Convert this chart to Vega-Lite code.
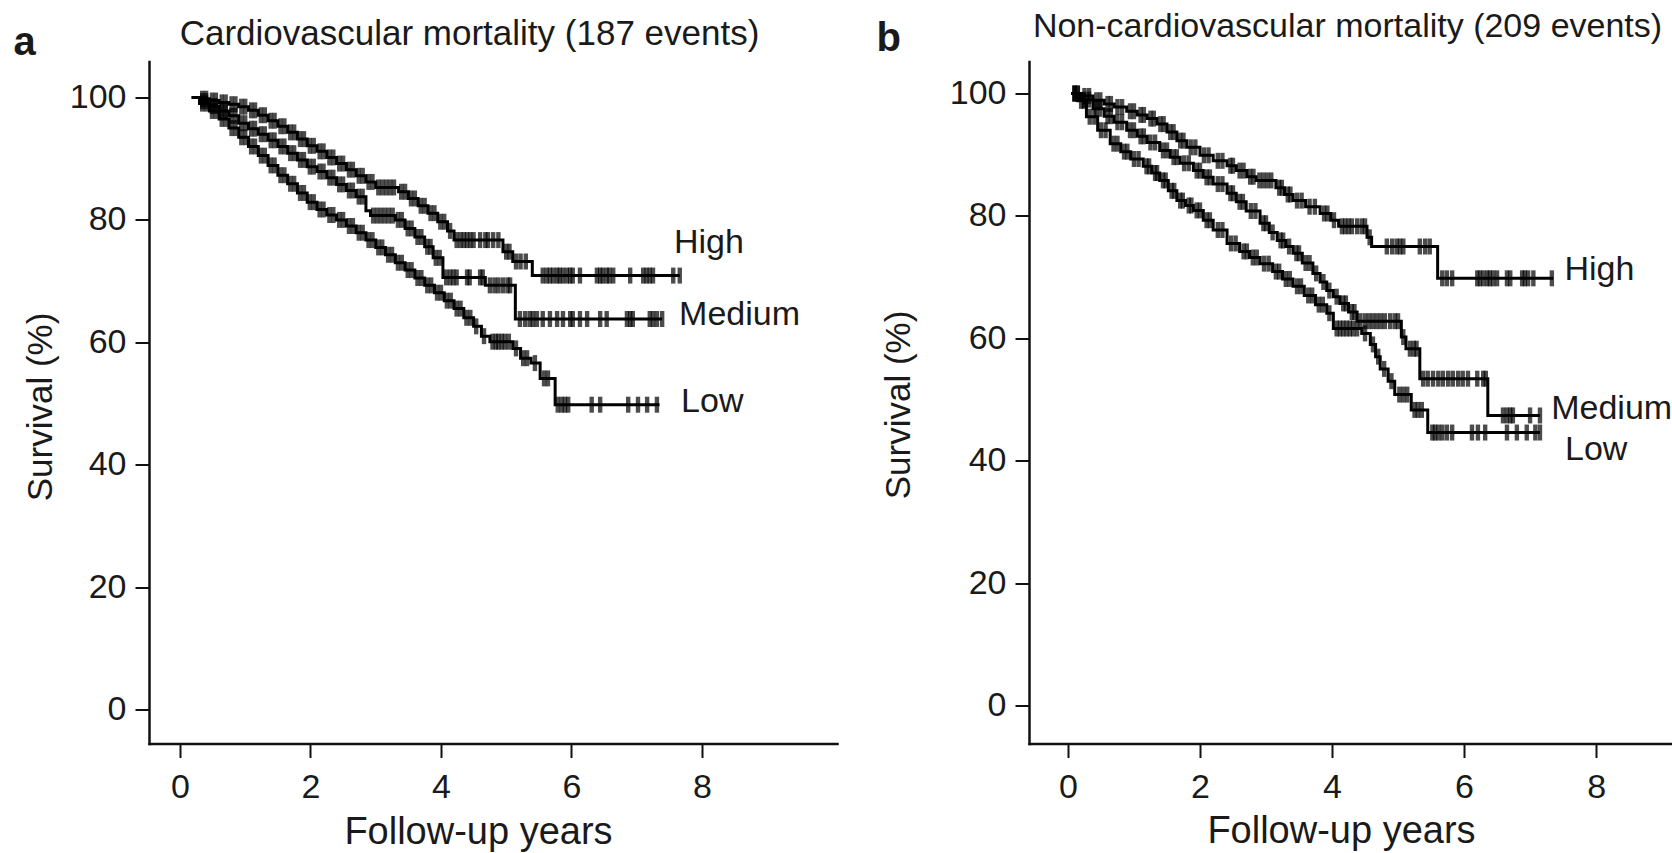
{
"$schema":"https://vega.github.io/schema/vega-lite/v6.json",
"background":"white",
"padding":{"left":13,"top":9.5,"right":0,"bottom":0},
"autosize":{"type":"pad"},
"spacing":192,
"bounds":"flush",
"datasets":{
"aSteps":[
{"curve":"High","year":0.18,"surv":100},{"curve":"High","year":0.3,"surv":99.8},{"curve":"High","year":0.45,"surv":99.5},{"curve":"High","year":0.6,"surv":99.2},{"curve":"High","year":0.75,"surv":98.9},{"curve":"High","year":0.9,"surv":98.5},{"curve":"High","year":1.05,"surv":97.9},{"curve":"High","year":1.2,"surv":97.1},{"curve":"High","year":1.35,"surv":96.2},{"curve":"High","year":1.5,"surv":95.3},{"curve":"High","year":1.65,"surv":94.3},{"curve":"High","year":1.8,"surv":93.2},{"curve":"High","year":1.95,"surv":92.1},{"curve":"High","year":2.1,"surv":91.2},{"curve":"High","year":2.25,"surv":90.2},{"curve":"High","year":2.4,"surv":89.2},{"curve":"High","year":2.55,"surv":88.2},{"curve":"High","year":2.7,"surv":87.2},{"curve":"High","year":2.85,"surv":86.2},{"curve":"High","year":3.0,"surv":85.3},{"curve":"High","year":3.35,"surv":84.6},{"curve":"High","year":3.5,"surv":83.5},{"curve":"High","year":3.65,"surv":82.3},{"curve":"High","year":3.8,"surv":81.1},{"curve":"High","year":3.95,"surv":79.7},{"curve":"High","year":4.1,"surv":78.2},{"curve":"High","year":4.2,"surv":76.7},{"curve":"High","year":4.95,"surv":74.8},{"curve":"High","year":5.1,"surv":73.2},{"curve":"High","year":5.4,"surv":70.9},{"curve":"High","year":7.66,"surv":70.9},
{"curve":"Medium","year":0.18,"surv":100},{"curve":"Medium","year":0.3,"surv":99.4},{"curve":"Medium","year":0.45,"surv":98.6},{"curve":"Medium","year":0.6,"surv":97.8},{"curve":"Medium","year":0.75,"surv":97.0},{"curve":"Medium","year":0.9,"surv":95.8},{"curve":"Medium","year":1.05,"surv":94.9},{"curve":"Medium","year":1.2,"surv":94.0},{"curve":"Medium","year":1.35,"surv":93.0},{"curve":"Medium","year":1.5,"surv":92.0},{"curve":"Medium","year":1.65,"surv":90.9},{"curve":"Medium","year":1.8,"surv":89.8},{"curve":"Medium","year":1.95,"surv":88.7},{"curve":"Medium","year":2.1,"surv":87.9},{"curve":"Medium","year":2.25,"surv":86.9},{"curve":"Medium","year":2.4,"surv":85.8},{"curve":"Medium","year":2.55,"surv":84.8},{"curve":"Medium","year":2.7,"surv":83.8},{"curve":"Medium","year":2.85,"surv":81.5},{"curve":"Medium","year":2.92,"surv":80.7},{"curve":"Medium","year":3.3,"surv":80.0},{"curve":"Medium","year":3.45,"surv":78.6},{"curve":"Medium","year":3.6,"surv":77.2},{"curve":"Medium","year":3.75,"surv":75.6},{"curve":"Medium","year":3.88,"surv":73.8},{"curve":"Medium","year":4.03,"surv":70.6},{"curve":"Medium","year":4.68,"surv":69.3},{"curve":"Medium","year":5.14,"surv":63.8},{"curve":"Medium","year":7.39,"surv":63.8},
{"curve":"Low","year":0.18,"surv":100},{"curve":"Low","year":0.3,"surv":99.0},{"curve":"Low","year":0.45,"surv":97.8},{"curve":"Low","year":0.6,"surv":96.5},{"curve":"Low","year":0.75,"surv":95.0},{"curve":"Low","year":0.9,"surv":93.5},{"curve":"Low","year":1.05,"surv":92.0},{"curve":"Low","year":1.2,"surv":90.5},{"curve":"Low","year":1.35,"surv":88.9},{"curve":"Low","year":1.5,"surv":87.3},{"curve":"Low","year":1.65,"surv":85.9},{"curve":"Low","year":1.8,"surv":84.4},{"curve":"Low","year":1.95,"surv":82.9},{"curve":"Low","year":2.1,"surv":81.7},{"curve":"Low","year":2.25,"surv":80.8},{"curve":"Low","year":2.4,"surv":80.0},{"curve":"Low","year":2.55,"surv":79.0},{"curve":"Low","year":2.7,"surv":77.9},{"curve":"Low","year":2.85,"surv":76.7},{"curve":"Low","year":3.0,"surv":75.5},{"curve":"Low","year":3.15,"surv":74.3},{"curve":"Low","year":3.3,"surv":73.0},{"curve":"Low","year":3.45,"surv":71.8},{"curve":"Low","year":3.6,"surv":70.5},{"curve":"Low","year":3.75,"surv":69.3},{"curve":"Low","year":3.9,"surv":68.1},{"curve":"Low","year":4.05,"surv":66.8},{"curve":"Low","year":4.2,"surv":65.5},{"curve":"Low","year":4.35,"surv":64.0},{"curve":"Low","year":4.5,"surv":62.6},{"curve":"Low","year":4.62,"surv":61.0},{"curve":"Low","year":4.75,"surv":60.1},{"curve":"Low","year":5.1,"surv":59.0},{"curve":"Low","year":5.22,"surv":57.4},{"curve":"Low","year":5.38,"surv":56.6},{"curve":"Low","year":5.52,"surv":54.1},{"curve":"Low","year":5.75,"surv":49.8},{"curve":"Low","year":7.35,"surv":49.8}
],
"aCens":[
{"curve":"High","year":0.34,"surv":99.8},{"curve":"High","year":0.4,"surv":99.8},{"curve":"High","year":0.49,"surv":99.5},{"curve":"High","year":0.55,"surv":99.5},{"curve":"High","year":0.64,"surv":99.2},{"curve":"High","year":0.7,"surv":99.2},{"curve":"High","year":0.79,"surv":98.9},{"curve":"High","year":0.85,"surv":98.9},{"curve":"High","year":0.94,"surv":98.5},{"curve":"High","year":1.0,"surv":98.5},{"curve":"High","year":1.09,"surv":97.9},{"curve":"High","year":1.15,"surv":97.9},{"curve":"High","year":1.24,"surv":97.1},{"curve":"High","year":1.3,"surv":97.1},{"curve":"High","year":1.39,"surv":96.2},{"curve":"High","year":1.45,"surv":96.2},{"curve":"High","year":1.54,"surv":95.3},{"curve":"High","year":1.6,"surv":95.3},{"curve":"High","year":1.69,"surv":94.3},{"curve":"High","year":1.75,"surv":94.3},{"curve":"High","year":1.84,"surv":93.2},{"curve":"High","year":1.9,"surv":93.2},{"curve":"High","year":1.99,"surv":92.1},{"curve":"High","year":2.05,"surv":92.1},{"curve":"High","year":2.14,"surv":91.2},{"curve":"High","year":2.2,"surv":91.2},{"curve":"High","year":2.29,"surv":90.2},{"curve":"High","year":2.35,"surv":90.2},{"curve":"High","year":2.44,"surv":89.2},{"curve":"High","year":2.5,"surv":89.2},{"curve":"High","year":2.59,"surv":88.2},{"curve":"High","year":2.65,"surv":88.2},{"curve":"High","year":2.74,"surv":87.2},{"curve":"High","year":2.8,"surv":87.2},{"curve":"High","year":2.89,"surv":86.2},{"curve":"High","year":2.95,"surv":86.2},{"curve":"High","year":3.04,"surv":85.3},{"curve":"High","year":3.1,"surv":85.3},{"curve":"High","year":3.16,"surv":85.3},{"curve":"High","year":3.22,"surv":85.3},{"curve":"High","year":3.28,"surv":85.3},{"curve":"High","year":3.39,"surv":84.6},{"curve":"High","year":3.45,"surv":84.6},{"curve":"High","year":3.54,"surv":83.5},{"curve":"High","year":3.6,"surv":83.5},{"curve":"High","year":3.69,"surv":82.3},{"curve":"High","year":3.75,"surv":82.3},{"curve":"High","year":3.84,"surv":81.1},{"curve":"High","year":3.9,"surv":81.1},{"curve":"High","year":3.99,"surv":79.7},{"curve":"High","year":4.05,"surv":79.7},{"curve":"High","year":4.14,"surv":78.2},{"curve":"High","year":4.24,"surv":76.7},{"curve":"High","year":4.3,"surv":76.7},{"curve":"High","year":4.35,"surv":76.7},{"curve":"High","year":4.4,"surv":76.7},{"curve":"High","year":4.45,"surv":76.7},{"curve":"High","year":4.5,"surv":76.7},{"curve":"High","year":4.6,"surv":76.7},{"curve":"High","year":4.68,"surv":76.7},{"curve":"High","year":4.72,"surv":76.7},{"curve":"High","year":4.8,"surv":76.7},{"curve":"High","year":4.88,"surv":76.7},{"curve":"High","year":5.0,"surv":74.8},{"curve":"High","year":5.05,"surv":74.8},{"curve":"High","year":5.15,"surv":73.2},{"curve":"High","year":5.22,"surv":73.2},{"curve":"High","year":5.3,"surv":73.2},{"curve":"High","year":5.56,"surv":70.9},{"curve":"High","year":5.62,"surv":70.9},{"curve":"High","year":5.67,"surv":70.9},{"curve":"High","year":5.72,"surv":70.9},{"curve":"High","year":5.78,"surv":70.9},{"curve":"High","year":5.82,"surv":70.9},{"curve":"High","year":5.87,"surv":70.9},{"curve":"High","year":5.93,"surv":70.9},{"curve":"High","year":5.98,"surv":70.9},{"curve":"High","year":6.02,"surv":70.9},{"curve":"High","year":6.13,"surv":70.9},{"curve":"High","year":6.39,"surv":70.9},{"curve":"High","year":6.44,"surv":70.9},{"curve":"High","year":6.48,"surv":70.9},{"curve":"High","year":6.54,"surv":70.9},{"curve":"High","year":6.58,"surv":70.9},{"curve":"High","year":6.64,"surv":70.9},{"curve":"High","year":6.9,"surv":70.9},{"curve":"High","year":7.1,"surv":70.9},{"curve":"High","year":7.15,"surv":70.9},{"curve":"High","year":7.2,"surv":70.9},{"curve":"High","year":7.25,"surv":70.9},{"curve":"High","year":7.56,"surv":70.9},{"curve":"High","year":7.66,"surv":70.9},
{"curve":"Medium","year":0.34,"surv":99.4},{"curve":"Medium","year":0.4,"surv":99.4},{"curve":"Medium","year":0.49,"surv":98.6},{"curve":"Medium","year":0.55,"surv":98.6},{"curve":"Medium","year":0.64,"surv":97.8},{"curve":"Medium","year":0.7,"surv":97.8},{"curve":"Medium","year":0.79,"surv":97.0},{"curve":"Medium","year":0.85,"surv":97.0},{"curve":"Medium","year":0.94,"surv":95.8},{"curve":"Medium","year":1.0,"surv":95.8},{"curve":"Medium","year":1.09,"surv":94.9},{"curve":"Medium","year":1.15,"surv":94.9},{"curve":"Medium","year":1.24,"surv":94.0},{"curve":"Medium","year":1.3,"surv":94.0},{"curve":"Medium","year":1.39,"surv":93.0},{"curve":"Medium","year":1.45,"surv":93.0},{"curve":"Medium","year":1.54,"surv":92.0},{"curve":"Medium","year":1.6,"surv":92.0},{"curve":"Medium","year":1.69,"surv":90.9},{"curve":"Medium","year":1.75,"surv":90.9},{"curve":"Medium","year":1.84,"surv":89.8},{"curve":"Medium","year":1.9,"surv":89.8},{"curve":"Medium","year":1.99,"surv":88.7},{"curve":"Medium","year":2.05,"surv":88.7},{"curve":"Medium","year":2.14,"surv":87.9},{"curve":"Medium","year":2.2,"surv":87.9},{"curve":"Medium","year":2.29,"surv":86.9},{"curve":"Medium","year":2.35,"surv":86.9},{"curve":"Medium","year":2.44,"surv":85.8},{"curve":"Medium","year":2.5,"surv":85.8},{"curve":"Medium","year":2.59,"surv":84.8},{"curve":"Medium","year":2.65,"surv":84.8},{"curve":"Medium","year":2.74,"surv":83.8},{"curve":"Medium","year":2.8,"surv":83.8},{"curve":"Medium","year":2.96,"surv":80.7},{"curve":"Medium","year":3.02,"surv":80.7},{"curve":"Medium","year":3.08,"surv":80.7},{"curve":"Medium","year":3.14,"surv":80.7},{"curve":"Medium","year":3.2,"surv":80.7},{"curve":"Medium","year":3.26,"surv":80.7},{"curve":"Medium","year":3.34,"surv":80.0},{"curve":"Medium","year":3.4,"surv":80.0},{"curve":"Medium","year":3.49,"surv":78.6},{"curve":"Medium","year":3.55,"surv":78.6},{"curve":"Medium","year":3.64,"surv":77.2},{"curve":"Medium","year":3.7,"surv":77.2},{"curve":"Medium","year":3.79,"surv":75.6},{"curve":"Medium","year":3.84,"surv":75.6},{"curve":"Medium","year":3.92,"surv":73.8},{"curve":"Medium","year":3.98,"surv":73.8},{"curve":"Medium","year":4.08,"surv":70.6},{"curve":"Medium","year":4.14,"surv":70.6},{"curve":"Medium","year":4.19,"surv":70.6},{"curve":"Medium","year":4.24,"surv":70.6},{"curve":"Medium","year":4.4,"surv":70.6},{"curve":"Medium","year":4.44,"surv":70.6},{"curve":"Medium","year":4.6,"surv":70.6},{"curve":"Medium","year":4.64,"surv":70.6},{"curve":"Medium","year":4.75,"surv":69.3},{"curve":"Medium","year":4.82,"surv":69.3},{"curve":"Medium","year":4.88,"surv":69.3},{"curve":"Medium","year":4.95,"surv":69.3},{"curve":"Medium","year":5.02,"surv":69.3},{"curve":"Medium","year":5.06,"surv":69.3},{"curve":"Medium","year":5.21,"surv":63.8},{"curve":"Medium","year":5.29,"surv":63.8},{"curve":"Medium","year":5.36,"surv":63.8},{"curve":"Medium","year":5.41,"surv":63.8},{"curve":"Medium","year":5.47,"surv":63.8},{"curve":"Medium","year":5.56,"surv":63.8},{"curve":"Medium","year":5.67,"surv":63.8},{"curve":"Medium","year":5.78,"surv":63.8},{"curve":"Medium","year":5.87,"surv":63.8},{"curve":"Medium","year":5.98,"surv":63.8},{"curve":"Medium","year":6.02,"surv":63.8},{"curve":"Medium","year":6.13,"surv":63.8},{"curve":"Medium","year":6.24,"surv":63.8},{"curve":"Medium","year":6.44,"surv":63.8},{"curve":"Medium","year":6.54,"surv":63.8},{"curve":"Medium","year":6.85,"surv":63.8},{"curve":"Medium","year":6.9,"surv":63.8},{"curve":"Medium","year":6.94,"surv":63.8},{"curve":"Medium","year":7.2,"surv":63.8},{"curve":"Medium","year":7.25,"surv":63.8},{"curve":"Medium","year":7.31,"surv":63.8},{"curve":"Medium","year":7.39,"surv":63.8},
{"curve":"Low","year":0.34,"surv":99.0},{"curve":"Low","year":0.4,"surv":99.0},{"curve":"Low","year":0.49,"surv":97.8},{"curve":"Low","year":0.55,"surv":97.8},{"curve":"Low","year":0.64,"surv":96.5},{"curve":"Low","year":0.7,"surv":96.5},{"curve":"Low","year":0.79,"surv":95.0},{"curve":"Low","year":0.85,"surv":95.0},{"curve":"Low","year":0.94,"surv":93.5},{"curve":"Low","year":1.0,"surv":93.5},{"curve":"Low","year":1.09,"surv":92.0},{"curve":"Low","year":1.15,"surv":92.0},{"curve":"Low","year":1.24,"surv":90.5},{"curve":"Low","year":1.3,"surv":90.5},{"curve":"Low","year":1.39,"surv":88.9},{"curve":"Low","year":1.45,"surv":88.9},{"curve":"Low","year":1.54,"surv":87.3},{"curve":"Low","year":1.6,"surv":87.3},{"curve":"Low","year":1.69,"surv":85.9},{"curve":"Low","year":1.75,"surv":85.9},{"curve":"Low","year":1.84,"surv":84.4},{"curve":"Low","year":1.9,"surv":84.4},{"curve":"Low","year":1.99,"surv":82.9},{"curve":"Low","year":2.05,"surv":82.9},{"curve":"Low","year":2.14,"surv":81.7},{"curve":"Low","year":2.2,"surv":81.7},{"curve":"Low","year":2.29,"surv":80.8},{"curve":"Low","year":2.35,"surv":80.8},{"curve":"Low","year":2.44,"surv":80.0},{"curve":"Low","year":2.5,"surv":80.0},{"curve":"Low","year":2.59,"surv":79.0},{"curve":"Low","year":2.65,"surv":79.0},{"curve":"Low","year":2.74,"surv":77.9},{"curve":"Low","year":2.8,"surv":77.9},{"curve":"Low","year":2.89,"surv":76.7},{"curve":"Low","year":2.95,"surv":76.7},{"curve":"Low","year":3.04,"surv":75.5},{"curve":"Low","year":3.1,"surv":75.5},{"curve":"Low","year":3.19,"surv":74.3},{"curve":"Low","year":3.25,"surv":74.3},{"curve":"Low","year":3.34,"surv":73.0},{"curve":"Low","year":3.4,"surv":73.0},{"curve":"Low","year":3.49,"surv":71.8},{"curve":"Low","year":3.55,"surv":71.8},{"curve":"Low","year":3.64,"surv":70.5},{"curve":"Low","year":3.7,"surv":70.5},{"curve":"Low","year":3.79,"surv":69.3},{"curve":"Low","year":3.85,"surv":69.3},{"curve":"Low","year":3.94,"surv":68.1},{"curve":"Low","year":4.0,"surv":68.1},{"curve":"Low","year":4.09,"surv":66.8},{"curve":"Low","year":4.15,"surv":66.8},{"curve":"Low","year":4.24,"surv":65.5},{"curve":"Low","year":4.3,"surv":65.5},{"curve":"Low","year":4.39,"surv":64.0},{"curve":"Low","year":4.45,"surv":64.0},{"curve":"Low","year":4.54,"surv":62.6},{"curve":"Low","year":4.66,"surv":61.0},{"curve":"Low","year":4.79,"surv":60.1},{"curve":"Low","year":4.84,"surv":60.1},{"curve":"Low","year":4.88,"surv":60.1},{"curve":"Low","year":4.93,"surv":60.1},{"curve":"Low","year":4.98,"surv":60.1},{"curve":"Low","year":5.04,"surv":60.1},{"curve":"Low","year":5.15,"surv":59.0},{"curve":"Low","year":5.26,"surv":57.4},{"curve":"Low","year":5.32,"surv":57.4},{"curve":"Low","year":5.44,"surv":56.6},{"curve":"Low","year":5.58,"surv":54.1},{"curve":"Low","year":5.64,"surv":54.1},{"curve":"Low","year":5.79,"surv":49.8},{"curve":"Low","year":5.85,"surv":49.8},{"curve":"Low","year":5.9,"surv":49.8},{"curve":"Low","year":5.95,"surv":49.8},{"curve":"Low","year":6.31,"surv":49.8},{"curve":"Low","year":6.44,"surv":49.8},{"curve":"Low","year":6.87,"surv":49.8},{"curve":"Low","year":7.02,"surv":49.8},{"curve":"Low","year":7.16,"surv":49.8},{"curve":"Low","year":7.31,"surv":49.8}
],
"aLab":[{"curve":"High","year":7.57,"surv":76.3},{"curve":"Medium","year":7.65,"surv":64.5},{"curve":"Low","year":7.68,"surv":50.3}],
"bSteps":[
{"curve":"High","year":0.05,"surv":100},{"curve":"High","year":0.2,"surv":99.6},{"curve":"High","year":0.38,"surv":98.9},{"curve":"High","year":0.55,"surv":98.3},{"curve":"High","year":0.7,"surv":97.8},{"curve":"High","year":0.89,"surv":97.1},{"curve":"High","year":1.05,"surv":96.5},{"curve":"High","year":1.2,"surv":95.9},{"curve":"High","year":1.35,"surv":95.0},{"curve":"High","year":1.5,"surv":93.7},{"curve":"High","year":1.65,"surv":92.3},{"curve":"High","year":1.8,"surv":91.2},{"curve":"High","year":2.0,"surv":89.9},{"curve":"High","year":2.2,"surv":89.0},{"curve":"High","year":2.41,"surv":88.2},{"curve":"High","year":2.55,"surv":87.4},{"curve":"High","year":2.71,"surv":86.4},{"curve":"High","year":2.85,"surv":85.8},{"curve":"High","year":3.15,"surv":84.6},{"curve":"High","year":3.28,"surv":83.5},{"curve":"High","year":3.41,"surv":82.5},{"curve":"High","year":3.6,"surv":81.5},{"curve":"High","year":3.82,"surv":80.4},{"curve":"High","year":3.98,"surv":79.3},{"curve":"High","year":4.1,"surv":78.3},{"curve":"High","year":4.53,"surv":76.5},{"curve":"High","year":4.6,"surv":75.0},{"curve":"High","year":5.6,"surv":69.8},{"curve":"High","year":7.35,"surv":69.8},
{"curve":"Medium","year":0.05,"surv":100},{"curve":"Medium","year":0.2,"surv":99.0},{"curve":"Medium","year":0.38,"surv":97.5},{"curve":"Medium","year":0.55,"surv":96.3},{"curve":"Medium","year":0.7,"surv":95.3},{"curve":"Medium","year":0.89,"surv":94.0},{"curve":"Medium","year":1.05,"surv":93.0},{"curve":"Medium","year":1.2,"surv":92.0},{"curve":"Medium","year":1.39,"surv":90.7},{"curve":"Medium","year":1.55,"surv":89.6},{"curve":"Medium","year":1.7,"surv":88.6},{"curve":"Medium","year":1.9,"surv":87.4},{"curve":"Medium","year":2.05,"surv":86.3},{"curve":"Medium","year":2.2,"surv":85.2},{"curve":"Medium","year":2.41,"surv":83.7},{"curve":"Medium","year":2.55,"surv":82.3},{"curve":"Medium","year":2.7,"surv":80.8},{"curve":"Medium","year":2.91,"surv":78.8},{"curve":"Medium","year":3.05,"surv":77.3},{"curve":"Medium","year":3.17,"surv":76.0},{"curve":"Medium","year":3.3,"surv":75.0},{"curve":"Medium","year":3.41,"surv":73.9},{"curve":"Medium","year":3.55,"surv":72.3},{"curve":"Medium","year":3.71,"surv":70.6},{"curve":"Medium","year":3.82,"surv":69.2},{"curve":"Medium","year":3.92,"surv":67.8},{"curve":"Medium","year":4.02,"surv":66.8},{"curve":"Medium","year":4.12,"surv":65.7},{"curve":"Medium","year":4.25,"surv":64.3},{"curve":"Medium","year":4.38,"surv":62.8},{"curve":"Medium","year":5.05,"surv":60.2},{"curve":"Medium","year":5.12,"surv":58.3},{"curve":"Medium","year":5.33,"surv":53.4},{"curve":"Medium","year":6.36,"surv":47.4},{"curve":"Medium","year":7.15,"surv":47.4},
{"curve":"Low","year":0.05,"surv":100},{"curve":"Low","year":0.15,"surv":98.8},{"curve":"Low","year":0.28,"surv":96.2},{"curve":"Low","year":0.45,"surv":94.0},{"curve":"Low","year":0.64,"surv":91.8},{"curve":"Low","year":0.8,"surv":90.5},{"curve":"Low","year":0.95,"surv":89.3},{"curve":"Low","year":1.14,"surv":88.1},{"curve":"Low","year":1.27,"surv":87.0},{"curve":"Low","year":1.39,"surv":85.8},{"curve":"Low","year":1.52,"surv":84.1},{"curve":"Low","year":1.65,"surv":82.5},{"curve":"Low","year":1.78,"surv":81.7},{"curve":"Low","year":1.9,"surv":80.9},{"curve":"Low","year":2.05,"surv":79.3},{"curve":"Low","year":2.2,"surv":77.7},{"curve":"Low","year":2.41,"surv":75.5},{"curve":"Low","year":2.6,"surv":74.2},{"curve":"Low","year":2.75,"surv":73.2},{"curve":"Low","year":2.91,"surv":72.2},{"curve":"Low","year":3.1,"surv":70.9},{"curve":"Low","year":3.25,"surv":69.7},{"curve":"Low","year":3.41,"surv":68.5},{"curve":"Low","year":3.58,"surv":67.0},{"curve":"Low","year":3.75,"surv":65.5},{"curve":"Low","year":3.92,"surv":64.1},{"curve":"Low","year":4.02,"surv":61.6},{"curve":"Low","year":4.45,"surv":60.8},{"curve":"Low","year":4.58,"surv":59.0},{"curve":"Low","year":4.66,"surv":57.0},{"curve":"Low","year":4.73,"surv":55.0},{"curve":"Low","year":4.85,"surv":53.0},{"curve":"Low","year":4.95,"surv":50.8},{"curve":"Low","year":5.2,"surv":48.3},{"curve":"Low","year":5.45,"surv":44.6},{"curve":"Low","year":7.15,"surv":44.6}
],
"bCens":[
{"curve":"High","year":0.1,"surv":100},{"curve":"High","year":0.15,"surv":100},{"curve":"High","year":0.25,"surv":99.6},{"curve":"High","year":0.32,"surv":99.6},{"curve":"High","year":0.43,"surv":98.9},{"curve":"High","year":0.49,"surv":98.9},{"curve":"High","year":0.6,"surv":98.3},{"curve":"High","year":0.65,"surv":98.3},{"curve":"High","year":0.75,"surv":97.8},{"curve":"High","year":0.82,"surv":97.8},{"curve":"High","year":0.94,"surv":97.1},{"curve":"High","year":1.0,"surv":97.1},{"curve":"High","year":1.1,"surv":96.5},{"curve":"High","year":1.15,"surv":96.5},{"curve":"High","year":1.25,"surv":95.9},{"curve":"High","year":1.3,"surv":95.9},{"curve":"High","year":1.4,"surv":95.0},{"curve":"High","year":1.45,"surv":95.0},{"curve":"High","year":1.55,"surv":93.7},{"curve":"High","year":1.6,"surv":93.7},{"curve":"High","year":1.7,"surv":92.3},{"curve":"High","year":1.75,"surv":92.3},{"curve":"High","year":1.86,"surv":91.2},{"curve":"High","year":1.93,"surv":91.2},{"curve":"High","year":2.06,"surv":89.9},{"curve":"High","year":2.13,"surv":89.9},{"curve":"High","year":2.27,"surv":89.0},{"curve":"High","year":2.34,"surv":89.0},{"curve":"High","year":2.46,"surv":88.2},{"curve":"High","year":2.5,"surv":88.2},{"curve":"High","year":2.6,"surv":87.4},{"curve":"High","year":2.66,"surv":87.4},{"curve":"High","year":2.76,"surv":86.4},{"curve":"High","year":2.81,"surv":86.4},{"curve":"High","year":2.9,"surv":85.8},{"curve":"High","year":2.96,"surv":85.8},{"curve":"High","year":3.02,"surv":85.8},{"curve":"High","year":3.08,"surv":85.8},{"curve":"High","year":3.2,"surv":84.6},{"curve":"High","year":3.24,"surv":84.6},{"curve":"High","year":3.33,"surv":83.5},{"curve":"High","year":3.37,"surv":83.5},{"curve":"High","year":3.47,"surv":82.5},{"curve":"High","year":3.54,"surv":82.5},{"curve":"High","year":3.66,"surv":81.5},{"curve":"High","year":3.74,"surv":81.5},{"curve":"High","year":3.88,"surv":80.4},{"curve":"High","year":3.93,"surv":80.4},{"curve":"High","year":4.03,"surv":79.3},{"curve":"High","year":4.15,"surv":78.3},{"curve":"High","year":4.2,"surv":78.3},{"curve":"High","year":4.25,"surv":78.3},{"curve":"High","year":4.3,"surv":78.3},{"curve":"High","year":4.38,"surv":78.3},{"curve":"High","year":4.45,"surv":78.3},{"curve":"High","year":4.5,"surv":78.3},{"curve":"High","year":4.57,"surv":76.5},{"curve":"High","year":4.83,"surv":75.0},{"curve":"High","year":4.91,"surv":75.0},{"curve":"High","year":4.98,"surv":75.0},{"curve":"High","year":5.03,"surv":75.0},{"curve":"High","year":5.08,"surv":75.0},{"curve":"High","year":5.33,"surv":75.0},{"curve":"High","year":5.41,"surv":75.0},{"curve":"High","year":5.48,"surv":75.0},{"curve":"High","year":5.67,"surv":69.8},{"curve":"High","year":5.74,"surv":69.8},{"curve":"High","year":5.82,"surv":69.8},{"curve":"High","year":6.2,"surv":69.8},{"curve":"High","year":6.24,"surv":69.8},{"curve":"High","year":6.29,"surv":69.8},{"curve":"High","year":6.35,"surv":69.8},{"curve":"High","year":6.39,"surv":69.8},{"curve":"High","year":6.44,"surv":69.8},{"curve":"High","year":6.5,"surv":69.8},{"curve":"High","year":6.65,"surv":69.8},{"curve":"High","year":6.7,"surv":69.8},{"curve":"High","year":6.88,"surv":69.8},{"curve":"High","year":6.92,"surv":69.8},{"curve":"High","year":6.97,"surv":69.8},{"curve":"High","year":7.05,"surv":69.8},{"curve":"High","year":7.33,"surv":69.8},
{"curve":"Medium","year":0.1,"surv":100},{"curve":"Medium","year":0.15,"surv":100},{"curve":"Medium","year":0.25,"surv":99.0},{"curve":"Medium","year":0.32,"surv":99.0},{"curve":"Medium","year":0.43,"surv":97.5},{"curve":"Medium","year":0.49,"surv":97.5},{"curve":"Medium","year":0.6,"surv":96.3},{"curve":"Medium","year":0.65,"surv":96.3},{"curve":"Medium","year":0.75,"surv":95.3},{"curve":"Medium","year":0.82,"surv":95.3},{"curve":"Medium","year":0.94,"surv":94.0},{"curve":"Medium","year":1.0,"surv":94.0},{"curve":"Medium","year":1.1,"surv":93.0},{"curve":"Medium","year":1.15,"surv":93.0},{"curve":"Medium","year":1.25,"surv":92.0},{"curve":"Medium","year":1.32,"surv":92.0},{"curve":"Medium","year":1.44,"surv":90.7},{"curve":"Medium","year":1.5,"surv":90.7},{"curve":"Medium","year":1.6,"surv":89.6},{"curve":"Medium","year":1.65,"surv":89.6},{"curve":"Medium","year":1.76,"surv":88.6},{"curve":"Medium","year":1.83,"surv":88.6},{"curve":"Medium","year":1.95,"surv":87.4},{"curve":"Medium","year":2.0,"surv":87.4},{"curve":"Medium","year":2.1,"surv":86.3},{"curve":"Medium","year":2.15,"surv":86.3},{"curve":"Medium","year":2.27,"surv":85.2},{"curve":"Medium","year":2.34,"surv":85.2},{"curve":"Medium","year":2.46,"surv":83.7},{"curve":"Medium","year":2.5,"surv":83.7},{"curve":"Medium","year":2.6,"surv":82.3},{"curve":"Medium","year":2.65,"surv":82.3},{"curve":"Medium","year":2.77,"surv":80.8},{"curve":"Medium","year":2.84,"surv":80.8},{"curve":"Medium","year":2.96,"surv":78.8},{"curve":"Medium","year":3.0,"surv":78.8},{"curve":"Medium","year":3.1,"surv":77.3},{"curve":"Medium","year":3.22,"surv":76.0},{"curve":"Medium","year":3.26,"surv":76.0},{"curve":"Medium","year":3.35,"surv":75.0},{"curve":"Medium","year":3.46,"surv":73.9},{"curve":"Medium","year":3.5,"surv":73.9},{"curve":"Medium","year":3.6,"surv":72.3},{"curve":"Medium","year":3.66,"surv":72.3},{"curve":"Medium","year":3.76,"surv":70.6},{"curve":"Medium","year":3.87,"surv":69.2},{"curve":"Medium","year":3.96,"surv":67.8},{"curve":"Medium","year":4.07,"surv":66.8},{"curve":"Medium","year":4.17,"surv":65.7},{"curve":"Medium","year":4.21,"surv":65.7},{"curve":"Medium","year":4.3,"surv":64.3},{"curve":"Medium","year":4.34,"surv":64.3},{"curve":"Medium","year":4.43,"surv":62.8},{"curve":"Medium","year":4.5,"surv":62.8},{"curve":"Medium","year":4.56,"surv":62.8},{"curve":"Medium","year":4.62,"surv":62.8},{"curve":"Medium","year":4.68,"surv":62.8},{"curve":"Medium","year":4.74,"surv":62.8},{"curve":"Medium","year":4.8,"surv":62.8},{"curve":"Medium","year":4.88,"surv":62.8},{"curve":"Medium","year":4.95,"surv":62.8},{"curve":"Medium","year":5.0,"surv":62.8},{"curve":"Medium","year":5.08,"surv":60.2},{"curve":"Medium","year":5.18,"surv":58.3},{"curve":"Medium","year":5.24,"surv":58.3},{"curve":"Medium","year":5.28,"surv":58.3},{"curve":"Medium","year":5.38,"surv":53.4},{"curve":"Medium","year":5.45,"surv":53.4},{"curve":"Medium","year":5.53,"surv":53.4},{"curve":"Medium","year":5.61,"surv":53.4},{"curve":"Medium","year":5.68,"surv":53.4},{"curve":"Medium","year":5.76,"surv":53.4},{"curve":"Medium","year":5.83,"surv":53.4},{"curve":"Medium","year":5.91,"surv":53.4},{"curve":"Medium","year":5.98,"surv":53.4},{"curve":"Medium","year":6.06,"surv":53.4},{"curve":"Medium","year":6.2,"surv":53.4},{"curve":"Medium","year":6.29,"surv":53.4},{"curve":"Medium","year":6.33,"surv":53.4},{"curve":"Medium","year":6.59,"surv":47.4},{"curve":"Medium","year":6.65,"surv":47.4},{"curve":"Medium","year":6.7,"surv":47.4},{"curve":"Medium","year":6.74,"surv":47.4},{"curve":"Medium","year":7.0,"surv":47.4},{"curve":"Medium","year":7.15,"surv":47.4},
{"curve":"Low","year":0.1,"surv":100},{"curve":"Low","year":0.2,"surv":98.8},{"curve":"Low","year":0.24,"surv":98.8},{"curve":"Low","year":0.33,"surv":96.2},{"curve":"Low","year":0.4,"surv":96.2},{"curve":"Low","year":0.5,"surv":94.0},{"curve":"Low","year":0.57,"surv":94.0},{"curve":"Low","year":0.69,"surv":91.8},{"curve":"Low","year":0.75,"surv":91.8},{"curve":"Low","year":0.85,"surv":90.5},{"curve":"Low","year":0.9,"surv":90.5},{"curve":"Low","year":1.0,"surv":89.3},{"curve":"Low","year":1.07,"surv":89.3},{"curve":"Low","year":1.19,"surv":88.1},{"curve":"Low","year":1.23,"surv":88.1},{"curve":"Low","year":1.32,"surv":87.0},{"curve":"Low","year":1.35,"surv":87.0},{"curve":"Low","year":1.44,"surv":85.8},{"curve":"Low","year":1.48,"surv":85.8},{"curve":"Low","year":1.57,"surv":84.1},{"curve":"Low","year":1.61,"surv":84.1},{"curve":"Low","year":1.7,"surv":82.5},{"curve":"Low","year":1.74,"surv":82.5},{"curve":"Low","year":1.83,"surv":81.7},{"curve":"Low","year":1.87,"surv":81.7},{"curve":"Low","year":1.95,"surv":80.9},{"curve":"Low","year":2.0,"surv":80.9},{"curve":"Low","year":2.1,"surv":79.3},{"curve":"Low","year":2.15,"surv":79.3},{"curve":"Low","year":2.27,"surv":77.7},{"curve":"Low","year":2.34,"surv":77.7},{"curve":"Low","year":2.47,"surv":75.5},{"curve":"Low","year":2.54,"surv":75.5},{"curve":"Low","year":2.66,"surv":74.2},{"curve":"Low","year":2.71,"surv":74.2},{"curve":"Low","year":2.8,"surv":73.2},{"curve":"Low","year":2.86,"surv":73.2},{"curve":"Low","year":2.97,"surv":72.2},{"curve":"Low","year":3.04,"surv":72.2},{"curve":"Low","year":3.15,"surv":70.9},{"curve":"Low","year":3.2,"surv":70.9},{"curve":"Low","year":3.3,"surv":69.7},{"curve":"Low","year":3.36,"surv":69.7},{"curve":"Low","year":3.47,"surv":68.5},{"curve":"Low","year":3.53,"surv":68.5},{"curve":"Low","year":3.64,"surv":67.0},{"curve":"Low","year":3.7,"surv":67.0},{"curve":"Low","year":3.8,"surv":65.5},{"curve":"Low","year":3.86,"surv":65.5},{"curve":"Low","year":3.96,"surv":64.1},{"curve":"Low","year":4.07,"surv":61.6},{"curve":"Low","year":4.12,"surv":61.6},{"curve":"Low","year":4.17,"surv":61.6},{"curve":"Low","year":4.22,"surv":61.6},{"curve":"Low","year":4.27,"surv":61.6},{"curve":"Low","year":4.32,"surv":61.6},{"curve":"Low","year":4.38,"surv":61.6},{"curve":"Low","year":4.5,"surv":60.8},{"curve":"Low","year":4.62,"surv":59.0},{"curve":"Low","year":4.7,"surv":57.0},{"curve":"Low","year":4.79,"surv":55.0},{"curve":"Low","year":4.9,"surv":53.0},{"curve":"Low","year":5.02,"surv":50.8},{"curve":"Low","year":5.08,"surv":50.8},{"curve":"Low","year":5.14,"surv":50.8},{"curve":"Low","year":5.25,"surv":48.3},{"curve":"Low","year":5.3,"surv":48.3},{"curve":"Low","year":5.36,"surv":48.3},{"curve":"Low","year":5.52,"surv":44.6},{"curve":"Low","year":5.56,"surv":44.6},{"curve":"Low","year":5.61,"surv":44.6},{"curve":"Low","year":5.67,"surv":44.6},{"curve":"Low","year":5.74,"surv":44.6},{"curve":"Low","year":5.82,"surv":44.6},{"curve":"Low","year":6.12,"surv":44.6},{"curve":"Low","year":6.21,"surv":44.6},{"curve":"Low","year":6.32,"surv":44.6},{"curve":"Low","year":6.65,"surv":44.6},{"curve":"Low","year":6.8,"surv":44.6},{"curve":"Low","year":6.95,"surv":44.6},{"curve":"Low","year":7.08,"surv":44.6},{"curve":"Low","year":7.15,"surv":44.6}
],
"bLab":[{"curve":"High","year":7.52,"surv":71.1},{"curve":"Medium","year":7.32,"surv":48.4},{"curve":"Low","year":7.53,"surv":41.8}]
},
"hconcat":[
{
"width":688,"height":682,
"encoding":{"y":{"field":"surv","type":"quantitative","scale":{"domain":[-5.56,105.88],"nice":false,"zero":false},
"axis":{"values":[0,20,40,60,80,100],"title":"Survival (%)","titleX":-109,"titleY":345,"titleAngle":-90,"titleAlign":"center","titleBaseline":"middle","labelPadding":9}}},
"layer":[
{"data":{"name":"aSteps"},"mark":{"type":"line","interpolate":"step-after","color":"#000","strokeWidth":3},
"encoding":{"x":{"field":"year","type":"quantitative","scale":{"domain":[-0.475,10.07],"nice":false,"zero":false},
"axis":{"orient":"bottom","values":[0,2,4,6,8],"format":"d","title":"Follow-up years","titleX":329,"titleY":89,"titleAlign":"center","titleBaseline":"middle","titleFontSize":38,"labelPadding":13}},
"detail":{"field":"curve"}}},
{"data":{"name":"aCens"},"mark":{"type":"tick","orient":"vertical","size":16,"thickness":4.4,"color":"#000"},
"encoding":{"x":{"field":"year","type":"quantitative","scale":{"domain":[-0.475,10.07],"nice":false,"zero":false},
"axis":{"orient":"top","title":"Cardiovascular mortality (187 events)","labels":false,"ticks":false,"domain":false,"titleX":320,"titleY":-28,"titleAlign":"center","titleBaseline":"middle","titleFontSize":35,"titleAngle":0}}}},
{"data":{"name":"aLab"},"mark":{"type":"text","align":"left","baseline":"middle","fontSize":34,"color":"#1a1a1a","font":"Liberation Sans"},
"encoding":{"x":{"field":"year","type":"quantitative","scale":{"domain":[-0.475,10.07],"nice":false,"zero":false},
"axis":{"orient":"top","title":"a","labels":false,"ticks":false,"domain":false,"titleX":-136,"titleY":-19,"titleAlign":"left","titleBaseline":"middle","titleFontSize":40,"titleFontWeight":"bold","titleAngle":0}},
"text":{"field":"curve"}}}
],
"resolve":{"axis":{"x":"independent"}}
},
{
"width":643,"height":682,
"encoding":{"y":{"field":"surv","type":"quantitative","scale":{"domain":[-6.21,105.23],"nice":false,"zero":false},
"axis":{"values":[0,20,40,60,80,100],"title":"Survival (%)","titleX":-131,"titleY":343,"titleAngle":-90,"titleAlign":"center","titleBaseline":"middle","labelPadding":9}}},
"layer":[
{"data":{"name":"bSteps"},"mark":{"type":"line","interpolate":"step-after","color":"#000","strokeWidth":3},
"encoding":{"x":{"field":"year","type":"quantitative","scale":{"domain":[-0.59,9.15],"nice":false,"zero":false},
"axis":{"orient":"bottom","values":[0,2,4,6,8],"format":"d","title":"Follow-up years","titleX":312,"titleY":88,"titleAlign":"center","titleBaseline":"middle","titleFontSize":38,"labelPadding":13}},
"detail":{"field":"curve"}}},
{"data":{"name":"bCens"},"mark":{"type":"tick","orient":"vertical","size":16,"thickness":4.4,"color":"#000"},
"encoding":{"x":{"field":"year","type":"quantitative","scale":{"domain":[-0.59,9.15],"nice":false,"zero":false},
"axis":{"orient":"top","title":"Non-cardiovascular mortality (209 events)","labels":false,"ticks":false,"domain":false,"titleX":318,"titleY":-35,"titleAlign":"center","titleBaseline":"middle","titleFontSize":34,"titleAngle":0}}}},
{"data":{"name":"bLab"},"mark":{"type":"text","align":"left","baseline":"middle","fontSize":34,"color":"#1a1a1a","font":"Liberation Sans"},
"encoding":{"x":{"field":"year","type":"quantitative","scale":{"domain":[-0.59,9.15],"nice":false,"zero":false},
"axis":{"orient":"top","title":"b","labels":false,"ticks":false,"domain":false,"titleX":-153,"titleY":-23,"titleAlign":"left","titleBaseline":"middle","titleFontSize":40,"titleFontWeight":"bold","titleAngle":0}},
"text":{"field":"curve"}}}
],
"resolve":{"axis":{"x":"independent"}}
}
],
"config":{
"font":"Liberation Sans",
"view":{"stroke":null},
"axis":{"grid":false,"domainColor":"#111","domainWidth":2.5,"domainCap":"square","tickColor":"#111","tickWidth":2,"tickSize":14,"labelFont":"Liberation Sans","labelFontSize":34,"labelColor":"#1a1a1a","titleFont":"Liberation Sans","titleFontSize":35,"titleFontWeight":"normal","titleColor":"#1a1a1a","labelFlush":false,"labelOverlap":false,"labelBound":false}
}
}
